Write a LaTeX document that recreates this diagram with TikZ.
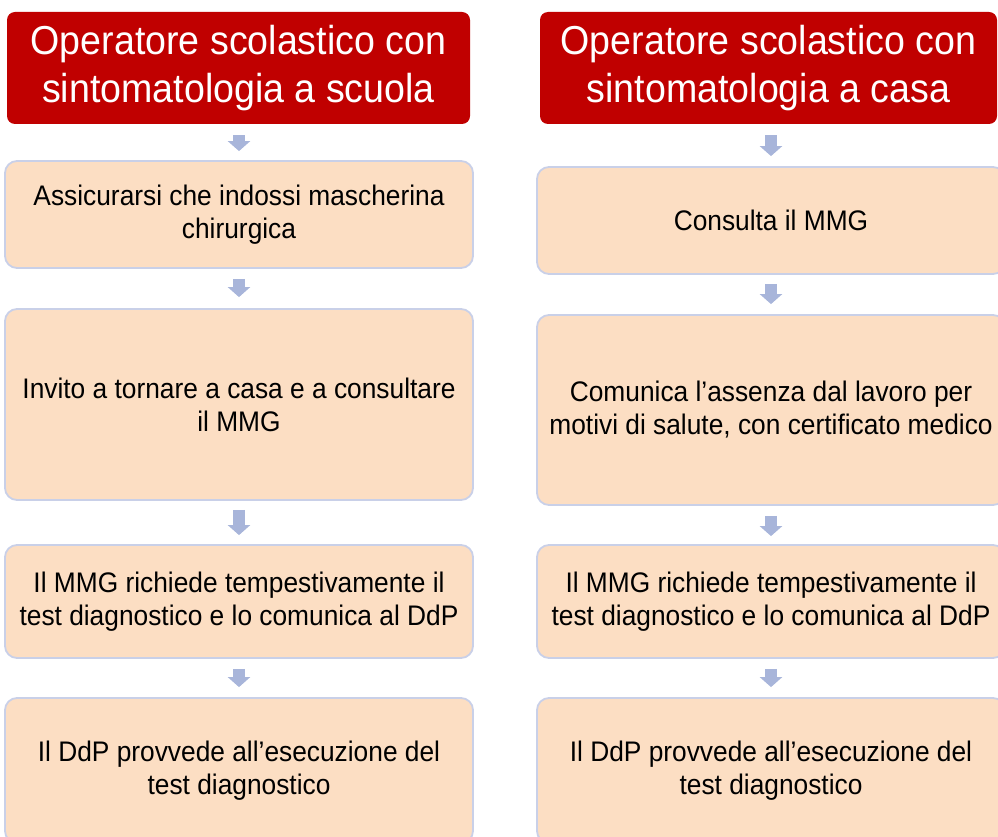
\documentclass[tikz,border=0pt]{standalone}
\usepackage{fontspec}
\setmainfont{Liberation Sans}[FakeStretch=0.93]
\usetikzlibrary{arrows.meta}
\definecolor{hdrred}{RGB}{192,0,0}
\definecolor{peach}{RGB}{252,222,195}
\definecolor{edgeblue}{RGB}{201,208,232}
\definecolor{arrowblue}{RGB}{168,181,218}
\begin{document}
\begin{tikzpicture}[x=1pt,y=-1pt,
  hdr/.style={draw=none, fill=hdrred, rounded corners=8pt, text=white,
    font=\fontsize{40.4pt}{47.5pt}\selectfont, align=center, inner sep=0pt},
  stepbox/.style={draw=edgeblue, line width=1.8pt, fill=peach, rounded corners=12pt,
    font=\fontsize{28.3pt}{33pt}\selectfont, align=center, inner sep=0pt},
  flow/.style={-{Triangle[width=22pt,length=10pt]}, line width=12pt, draw=arrowblue}]
\useasboundingbox (0,0) rectangle (998,837);
\clip (0,0) rectangle (998,837);
% left column
\node[hdr, minimum width=463pt, minimum height=112pt] (hL) at (238.5,68) {Operatore scolastico con\\sintomatologia a scuola};
\node[stepbox, minimum width=468pt, minimum height=107pt] (L1) at (239,214.5) {Assicurarsi che indossi mascherina\\chirurgica};
\node[stepbox, minimum width=468pt, minimum height=191pt] (L2) at (239,404.5) {Invito a tornare a casa e a consultare\\il MMG};
\node[stepbox, minimum width=468pt, minimum height=113pt] (L3) at (239,601.5) {Il MMG richiede tempestivamente il\\test diagnostico e lo comunica al DdP};
\node[stepbox, minimum width=468pt, minimum height=145pt] (L4) at (239,770.5) {Il DdP provvede all’esecuzione del\\test diagnostico};
% right column
\node[hdr, minimum width=457pt, minimum height=112pt] (hR) at (768.5,68) {Operatore scolastico con\\sintomatologia a casa};
\node[stepbox, minimum width=468pt, minimum height=107pt] (R1) at (771,220.5) {Consulta il MMG};
\node[stepbox, minimum width=468pt, minimum height=190pt] (R2) at (771,410) {Comunica l’assenza dal lavoro per\\motivi di salute, con certificato medico};
\node[stepbox, minimum width=468pt, minimum height=113pt] (R3) at (771,601.5) {Il MMG richiede tempestivamente il\\test diagnostico e lo comunica al DdP};
\node[stepbox, minimum width=468pt, minimum height=145pt] (R4) at (771,770.5) {Il DdP provvede all’esecuzione del\\test diagnostico};
% arrows left
\draw[flow, shorten <=11pt, shorten >=9pt] (L1.north |- hL.south) -- (L1.north);
\draw[flow, shorten <=10pt, shorten >=11pt] (L1.south) -- (L2.north);
\draw[flow, shorten <=9pt, shorten >=9pt] (L2.south) -- (L3.north);
\draw[flow, shorten <=10pt, shorten >=10pt] (L3.south) -- (L4.north);
% arrows right
\draw[flow, shorten <=11pt, shorten >=10pt] (R1.north |- hR.south) -- (R1.north);
\draw[flow, shorten <=9pt, shorten >=10pt] (R1.south) -- (R2.north);
\draw[flow, shorten <=10pt, shorten >=8pt] (R2.south) -- (R3.north);
\draw[flow, shorten <=10pt, shorten >=10pt] (R3.south) -- (R4.north);
\end{tikzpicture}
\end{document}
